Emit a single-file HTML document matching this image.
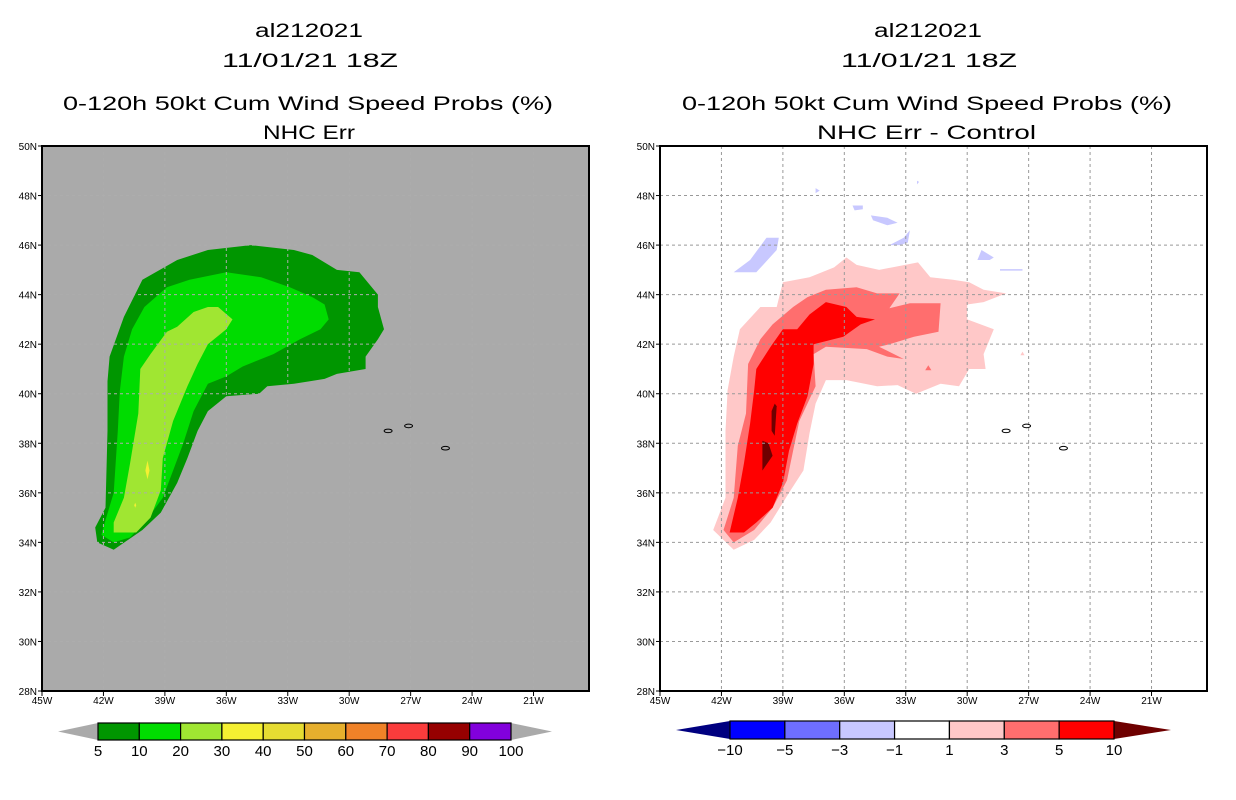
<!DOCTYPE html>
<html><head><meta charset="utf-8"><style>
html,body{margin:0;padding:0;background:#fff;}
svg{display:block;font-family:"Liberation Sans",sans-serif;}
</style></head><body>
<svg id="chart" width="1236" height="800" viewBox="0 0 1236 800">
<g id="titles" font-size="19" fill="#000">
<text x="255" y="37" textLength="108" lengthAdjust="spacingAndGlyphs">al212021</text>
<text x="222" y="67" textLength="176" lengthAdjust="spacingAndGlyphs">11/01/21 18Z</text>
<text x="63" y="110" textLength="490" lengthAdjust="spacingAndGlyphs">0-120h 50kt Cum Wind Speed Probs (%)</text>
<text x="263" y="139" textLength="92" lengthAdjust="spacingAndGlyphs">NHC Err</text>
<text x="874" y="37" textLength="108" lengthAdjust="spacingAndGlyphs">al212021</text>
<text x="841" y="67" textLength="176" lengthAdjust="spacingAndGlyphs">11/01/21 18Z</text>
<text x="682" y="110" textLength="490" lengthAdjust="spacingAndGlyphs">0-120h 50kt Cum Wind Speed Probs (%)</text>
<text x="817" y="139" textLength="219" lengthAdjust="spacingAndGlyphs">NHC Err - Control</text>
</g>
<g id="left"></g>
<g id="right"></g>
<g id="cbars"></g>
</svg>
<script>
// tick labels
const lonTicks = [45,42,39,36,33,30,27,24,21];
const latTicks = [50,48,46,44,42,40,38,36,34,32,30,28];
// left panel contours (lon W, lat N)
const prob5 = [[34.8,46.0],[32.7,45.8],[31.8,45.6],[30.6,45.0],[29.5,44.9],[28.6,44.0],[28.6,43.5],[28.3,42.6],[28.6,42.2],[29.2,41.5],[29.2,41.0],[30.6,40.8],[31.2,40.6],[32.7,40.4],[34.0,40.3],[34.4,40.0],[36.0,39.9],[36.9,39.3],[37.4,38.5],[37.9,37.4],[38.4,36.4],[39.2,35.2],[40.1,34.5],[41.5,33.7],[42.3,34.0],[42.4,34.6],[41.9,35.4],[41.8,38.5],[41.8,40.5],[41.7,41.5],[41.0,43.1],[40.1,44.6],[38.4,45.4],[36.9,45.8]];
const prob10 = [[36.0,44.9],[34.3,44.7],[32.9,44.3],[31.8,43.9],[31.2,43.6],[31.0,43.0],[31.4,42.6],[32.4,42.2],[33.7,41.6],[35.2,41.1],[36.0,40.7],[36.9,40.4],[37.6,39.3],[38.1,38.0],[38.6,36.9],[39.1,35.8],[39.9,34.9],[40.7,34.2],[41.5,34.0],[42.1,34.3],[41.9,34.9],[41.5,36.0],[41.3,38.5],[41.2,40.1],[41.0,41.5],[40.6,42.6],[40.0,43.5],[38.9,44.3],[37.8,44.6]];
const prob20 = [[36.9,43.5],[36.4,43.5],[35.7,43.0],[36.0,42.6],[36.9,42.0],[37.4,41.2],[37.9,40.3],[38.6,38.9],[39.1,37.4],[39.2,36.1],[39.7,35.0],[40.4,34.4],[41.5,34.4],[41.5,34.8],[41.0,35.8],[40.7,37.2],[40.3,39.2],[40.2,41.0],[39.7,41.6],[38.9,42.5],[38.4,42.7],[37.6,43.3]];
const prob30 = [[39.85,37.3],[39.75,36.9],[39.85,36.55],[39.95,36.9]];
const prob30b = [[40.45,35.6],[40.4,35.5],[40.45,35.4],[40.5,35.5]];
// right panel difference contours
const diffP1 = [[35.9,45.5],[35.4,45.2],[34.3,45.0],[32.4,45.3],[31.8,44.7],[30.7,44.6],[29.9,44.5],[29.2,44.2],[28.1,44.05],[29.2,43.7],[30.0,43.6],[30.0,43.0],[28.7,42.6],[29.2,41.6],[29.1,41.0],[29.9,41.0],[30.4,40.3],[31.3,40.4],[32.5,40.0],[33.4,40.35],[34.4,40.3],[35.9,40.55],[36.9,40.55],[37.4,39.6],[37.7,38.4],[38.0,36.9],[38.7,36.0],[39.6,34.8],[40.4,34.1],[41.4,33.7],[42.4,34.5],[41.8,35.8],[41.8,38.5],[41.7,40.15],[41.4,41.5],[41.1,42.6],[40.1,43.5],[39.3,43.5],[39.0,44.5],[37.7,44.7],[36.5,45.1]];
const diffP1b = [[27.3,41.7],[27.2,41.55],[27.4,41.55]];
const diffP3 = [[36.9,44.2],[35.4,44.3],[34.4,44.05],[33.3,44.05],[33.8,43.45],[32.8,43.65],[31.3,43.65],[31.4,42.5],[32.6,42.3],[33.8,42.0],[34.3,41.9],[33.1,41.4],[33.9,41.5],[34.9,41.8],[36.9,41.9],[37.5,41.6],[37.4,40.3],[38.2,38.9],[38.5,37.7],[38.8,36.5],[39.5,35.4],[40.4,34.5],[41.4,34.0],[41.9,34.5],[41.4,35.8],[41.2,37.9],[40.8,39.2],[40.7,41.2],[40.1,42.2],[39.5,42.8],[38.5,43.5],[37.8,43.9]];
const diffP3b = [[31.9,41.15],[31.75,40.95],[32.05,40.95]];
const diffP5 = [[36.9,43.7],[35.9,43.5],[35.4,43.1],[34.5,43.0],[35.2,42.8],[36.05,42.3],[37.5,42.0],[37.5,41.2],[37.8,39.9],[38.3,38.8],[38.7,37.7],[39.0,36.4],[39.5,35.4],[40.3,34.8],[40.9,34.4],[41.6,34.4],[41.2,35.8],[40.9,37.2],[40.6,38.8],[40.4,40.15],[40.3,41.0],[39.6,41.9],[39.0,42.6],[38.3,42.6],[37.7,43.2]];
const diffP10a = [[39.4,39.6],[39.3,39.5],[39.4,38.3],[39.55,38.5],[39.55,39.3]];
const diffP10b = [[40.0,38.1],[39.7,38.0],[39.5,37.5],[40.0,36.9],[40.0,37.5]];
const diffN1 = [
 [[41.4,44.9],[40.6,45.4],[39.8,46.3],[39.2,46.3],[39.3,45.8],[40.3,44.9]],
 [[33.8,46.0],[33.1,46.3],[32.8,46.6],[32.9,46.1],[33.3,46.0]],
 [[29.5,45.4],[29.3,45.8],[28.7,45.5],[28.9,45.4]],
 [[28.4,45.03],[27.3,45.03],[27.3,44.97],[28.4,44.97]],
 [[37.4,48.3],[37.2,48.2],[37.4,48.1]],
 [[35.6,47.6],[35.1,47.6],[35.1,47.45],[35.5,47.4]],
 [[34.7,47.2],[33.9,47.1],[33.4,46.9],[33.9,46.8],[34.6,47.0]],
 [[32.45,48.6],[32.35,48.55],[32.45,48.45]]
];
const islands = [[28.1,38.5],[27.1,38.7],[25.3,37.8]];
const probLevels = ['5','10','20','30','40','50','60','70','80','90','100'];
const probColors = ['#009600','#00dc00','#a0e632','#f5f032','#e6dc32','#e6af2d','#f08228','#fa3c3c','#960000','#8200dc'];
const diffLevels = ['-10','-5','-3','-1','1','3','5','10'];
const diffColors = ['#0000ff','#6e6eff','#c8c8ff','#ffffff','#ffc8c8','#ff6e6e','#ff0000'];

const NS='http://www.w3.org/2000/svg';
function mk(tag, parent, attrs){const e=document.createElementNS(NS,tag);for(const k in attrs)e.setAttribute(k,attrs[k]);parent.appendChild(e);return e;}
const Y0=146, Y1=691, LATMIN=28, LATMAX=50;
function yScale(lat){return Y0+(LATMAX-lat)*(Y1-Y0)/(LATMAX-LATMIN);}
function xScaleFor(x0){return lon=>x0+(45-lon)*20.48;}
function drawPanel(g, x0, bg){
  const xs=xScaleFor(x0); const W=547;
  const r=mk('rect',g,{x:x0,y:Y0,width:W,height:Y1-Y0,fill:bg});
  
  
  return xs;
}
function poly(g, pts, xs, fill, name){
  const p=mk('polygon',g,{points:pts.map(d=>xs(d[0]).toFixed(1)+','+yScale(d[1]).toFixed(1)).join(' '),fill:fill});
  
  
}
function gridAxes(g, x0, xs, gridCol, dash){
  const gg=mk('g',g,{});
  
  
  lonTicks.forEach(l=>{ if(l<45){const ln=mk('line',gg,{x1:xs(l),x2:xs(l),y1:Y0,y2:Y1,stroke:gridCol,'stroke-dasharray':dash});
    }});
  latTicks.forEach(l=>{ if(l<50&&l>28){const ln=mk('line',gg,{x1:x0,x2:x0+547,y1:yScale(l),y2:yScale(l),stroke:gridCol,'stroke-dasharray':dash});
    }});
  islands.forEach(d=>{const e=mk('ellipse',g,{cx:xs(d[0]),cy:yScale(d[1]),rx:4,ry:1.8,fill:'none',stroke:'#000','stroke-width':1});
    
    });
  const fr=mk('rect',g,{x:x0,y:Y0,width:547,height:Y1-Y0,fill:'none',stroke:'#000','stroke-width':2});
  
  
  lonTicks.forEach(l=>{const x=xs(l);mk('line',g,{x1:x,x2:x,y1:Y1,y2:Y1+5,stroke:'#000'});
    const t=mk('text',g,{x:x,y:Y1+13,'font-size':10,'text-anchor':'middle'});t.textContent=l+'W';
    
    });
  latTicks.forEach(l=>{const y=yScale(l);mk('line',g,{x1:x0-4,x2:x0,y1:y,y2:y,stroke:'#000'});
    const t=mk('text',g,{x:x0-5,y:y+4,'font-size':10,'text-anchor':'end'});t.textContent=l+'N';
    
    });
}
// left
const L=document.getElementById('left');
const xl=drawPanel(L,42,'#aaaaaa');
poly(L,prob5,xl,probColors[0],'contour-5pct');
poly(L,prob10,xl,probColors[1],'contour-10pct');
poly(L,prob20,xl,probColors[2],'contour-20pct');
poly(L,prob30,xl,probColors[3],'contour-30pct');
poly(L,prob30b,xl,probColors[3],'contour-30pct-small');
gridAxes(L,42,xl,'#adadad','3,3');
// right
const R=document.getElementById('right');
const xr=drawPanel(R,660,'#ffffff');
diffN1.forEach(p=>poly(R,p,xr,diffColors[2],'contour-minus1'));
poly(R,diffP1,xr,diffColors[4],'contour-plus1');
poly(R,diffP1b,xr,diffColors[4],'contour-plus1-small');
poly(R,diffP3,xr,diffColors[5],'contour-plus3');
poly(R,diffP3b,xr,diffColors[5],'contour-plus3-small');
poly(R,diffP5,xr,diffColors[6],'contour-plus5');
poly(R,diffP10a,xr,'#6e0000','contour-plus10-a');
poly(R,diffP10b,xr,'#6e0000','contour-plus10-b');
gridAxes(R,660,xr,'#999999','3,3');
// colorbars
const C=document.getElementById('cbars');
function cbar(x0,x1,yTop,h,colors,levels,lcol,rcol,lt,rt,name){
  const g=mk('g',C,{});
  
  
  const ym=yTop+h/2;
  const a=mk('polygon',g,{points:`${lt},${ym} ${x0},${yTop} ${x0},${yTop+h}`,fill:lcol});
  
  const b=mk('polygon',g,{points:`${rt},${ym} ${x1},${yTop} ${x1},${yTop+h}`,fill:rcol});
  
  const w=(x1-x0)/colors.length;
  colors.forEach((c,i)=>{const r=mk('rect',g,{x:x0+i*w,y:yTop,width:w,height:h,fill:c,stroke:'#000','stroke-width':1.2});
    });
  levels.forEach((lv,i)=>{const t=mk('text',g,{x:x0+i*w,y:yTop+h+16,'font-size':15,'text-anchor':'middle'});t.textContent=lv.replace('-','\u2212');
    });
}
cbar(98,511,723,17,probColors,probLevels,'#aaaaaa','#aaaaaa',58,552,'prob-colorbar');
cbar(730,1114,721,18,diffColors,diffLevels,'#000080','#6e0000',676,1171,'diff-colorbar');
</script>
</body></html>
